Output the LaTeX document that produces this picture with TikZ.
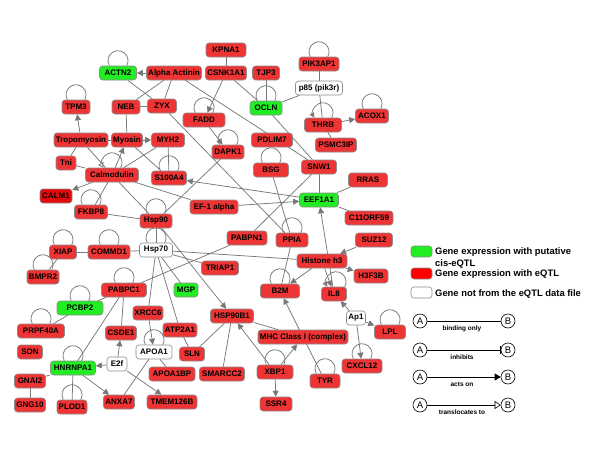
\documentclass[tikz,border=0pt]{standalone}
\usepackage{fontspec}
\setmainfont{Liberation Sans}
\usetikzlibrary{arrows.meta,backgrounds}
\definecolor{nred}{RGB}{238,52,52}
\definecolor{nredd}{RGB}{228,10,10}
\definecolor{ngreen}{RGB}{34,236,34}
\definecolor{nborder}{RGB}{140,140,140}
\definecolor{ecol}{RGB}{120,120,120}
\tikzset{
 gene/.style={draw=nborder, rounded corners=3pt, minimum height=14pt, inner xsep=1pt, inner ysep=0pt, font=\fontsize{8}{9}\selectfont\bfseries, line width=0.6pt},
 rn/.style={gene, fill=nred},
 rd/.style={gene, fill=nredd},
 gn/.style={gene, fill=ngreen},
 wn/.style={gene, fill=white},
 edge/.style={draw=ecol, line width=0.75pt},
 act/.style={edge, -{Triangle[length=6pt,width=6pt]}},
 lgd/.style={draw=black, line width=0.6pt},
 abc/.style={circle, draw=black, line width=0.6pt, minimum size=14pt, inner sep=0pt, font=\fontsize{9.5}{10}\selectfont},
 lgtxt/.style={font=\fontsize{9.4}{10}\selectfont\bfseries, anchor=base west, inner sep=0pt},
 lgsm/.style={font=\fontsize{6.5}{7}\selectfont\bfseries, inner sep=0pt}
}
\newcommand\sloop[2][0]{\draw[edge] ([xshift=#1pt-8.66pt]#2.north) arc[start angle=210,end angle=-30,radius=10pt];}
\newcommand\aloop[2][0]{\draw[edge,{Triangle[length=5pt,width=5pt]}-] ([xshift=#1pt-8.66pt]#2.north) arc[start angle=210,end angle=-30,radius=10pt];}
\newcommand\tloop[2][0]{\draw[edge,{Triangle[open,length=5pt,width=6pt]}-] ([xshift=#1pt-8.66pt]#2.north) arc[start angle=210,end angle=-30,radius=10pt];}
\begin{document}
\begin{tikzpicture}[x=1pt,y=1pt]
\useasboundingbox (0,0) rectangle (600,-455);
% ---- nodes ----
\node[rn,minimum width=40pt] (KPNA1) at (226,-50) {KPNA1};
\node[rn,minimum width=55pt] (AlphaA) at (174,-73) {Alpha Actinin};
\node[rn,minimum width=41pt] (CSNK1A1) at (226,-73) {CSNK1A1};
\node[rn,minimum width=27pt] (TJP3) at (266,-73) {TJP3};
\node[rn,minimum width=40pt] (PIK3AP1) at (319,-64) {PIK3AP1};
\node[wn,minimum width=47pt] (p85) at (319,-88) {p85 (pik3r)};
\node[gn,minimum width=37pt] (ACTN2) at (118,-73) {ACTN2};
\node[rn,minimum width=28pt] (TPM3) at (76,-107) {TPM3};
\node[rn,minimum width=28pt] (NEB) at (126,-107) {NEB};
\node[rn,minimum width=29pt] (ZYX) at (162,-106) {ZYX};
\node[rn,minimum width=42pt] (FADD) at (204,-120) {FADD};
\node[gn,minimum width=32pt] (OCLN) at (266,-108) {OCLN};
\node[rn,minimum width=33pt] (ACOX1) at (372,-116) {ACOX1};
\node[rn,minimum width=37pt] (THRB) at (323,-125) {THRB};
\node[rn,minimum width=41pt] (PSMC3IP) at (336,-145) {PSMC3IP};
\node[rn,minimum width=41pt] (PDLIM7) at (272,-140) {PDLIM7};
\node[rn,minimum width=32pt] (DAPK1) at (228,-152) {DAPK1};
\node[rn,minimum width=54pt] (Tropo) at (81,-140) {Tropomyosin};
\node[rn,minimum width=31pt] (Myosin) at (127,-140) {Myosin};
\node[rn,minimum width=33pt] (MYH2) at (168,-140) {MYH2};
\node[rn,minimum width=20pt] (Tni) at (66,-163) {Tni};
\node[rn,minimum width=53pt] (Calm) at (112,-175) {Calmodulin};
\node[rn,minimum width=35pt] (S100A4) at (169,-178) {S100A4};
\node[rd,minimum width=32pt] (CALM1) at (56,-196) {CALM1};
\node[rn,minimum width=35pt] (BSG) at (271,-170) {BSG};
\node[rn,minimum width=35pt] (SNW1) at (319,-167) {SNW1};
\node[gn,minimum width=39pt] (EEF1A1) at (319,-200) {EEF1A1};
\node[rn,minimum width=39pt] (RRAS) at (368,-180) {RRAS};
\node[rn,minimum width=33pt] (FKBP8) at (91,-212) {FKBP8};
\node[rn,minimum width=48pt] (EF1a) at (214,-207) {EF-1 alpha};
\node[rn,minimum width=48pt] (C11) at (369,-218) {C11ORF59};
\node[rn,minimum width=32pt] (Hsp90) at (156,-221) {Hsp90};
\node[rn,minimum width=27pt] (XIAP) at (63,-252) {XIAP};
\node[rn,minimum width=42pt] (COMMD1) at (109,-252) {COMMD1};
\node[wn,minimum width=33pt] (Hsp70) at (156,-250) {Hsp70};
\node[rn,minimum width=40pt] (PABPN1) at (247,-238) {PABPN1};
\node[rn,minimum width=32pt] (PPIA) at (292,-240) {PPIA};
\node[rn,minimum width=37pt] (SUZ12) at (374,-240) {SUZ12};
\node[rn,minimum width=50pt] (Histone) at (322,-261) {Histone h3};
\node[rn,minimum width=37pt] (TRIAP1) at (220,-268) {TRIAP1};
\node[rn,minimum width=34pt] (H3F3B) at (371,-276) {H3F3B};
\node[rn,minimum width=32pt] (BMPR2) at (43,-277) {BMPR2};
\node[rn,minimum width=45pt] (PABPC1) at (124,-290) {PABPC1};
\node[gn,minimum width=24pt] (MGP) at (186,-290) {MGP};
\node[rn,minimum width=39pt] (B2M) at (280,-291) {B2M};
\node[rn,minimum width=25pt] (IL8) at (334,-294) {IL8};
\node[gn,minimum width=46pt] (PCBP2) at (80,-308) {PCBP2};
\node[rn,minimum width=30pt] (XRCC6) at (148,-313) {XRCC6};
\node[rn,minimum width=43pt] (HSP90B1) at (232,-316) {HSP90B1};
\node[wn,minimum width=19pt] (Ap1) at (356,-318) {Ap1};
\node[rn,minimum width=47pt] (PRPF40A) at (41,-331) {PRPF40A};
\node[rn,minimum width=34pt] (ATP2A1) at (180,-330) {ATP2A1};
\node[rn,minimum width=31pt] (CSDE1) at (121,-333) {CSDE1};
\node[rn,minimum width=31pt] (LPL) at (390,-332) {LPL};
\node[rn,minimum width=90pt] (MHC) at (303,-337) {MHC Class I (complex)};
\node[rn,minimum width=25pt] (SON) at (30,-352) {SON};
\node[wn,minimum width=36pt] (APOA1) at (154,-352) {APOA1};
\node[rn,minimum width=25pt] (SLN) at (192,-354) {SLN};
\node[rn,minimum width=40pt] (CXCL12) at (362,-366) {CXCL12};
\node[gn,minimum width=45pt] (HNRNPA1) at (73,-368) {HNRNPA1};
\node[wn,minimum width=20pt] (E2f) at (117,-364) {E2f};
\node[rn,minimum width=46pt] (APOA1BP) at (172,-374) {APOA1BP};
\node[rn,minimum width=45pt] (SMARCC2) at (222,-374) {SMARCC2};
\node[rn,minimum width=36pt] (XBP1) at (275,-372) {XBP1};
\node[rn,minimum width=30pt] (TYR) at (325,-381) {TYR};
\node[rn,minimum width=31pt] (GNAI2) at (30,-381) {GNAI2};
\node[rn,minimum width=31pt] (ANXA7) at (119,-402) {ANXA7};
\node[rn,minimum width=50pt] (TMEM) at (172,-402) {TMEM126B};
\node[rn,minimum width=32pt] (SSR4) at (276,-404) {SSR4};
\node[rn,minimum width=31pt] (GNG10) at (30,-405) {GNG10};
\node[rn,minimum width=30pt] (PLOD1) at (72,-407) {PLOD1};
% ---- edges ----
\begin{scope}[on background layer]
\foreach \a/\b in {AlphaA/NEB, AlphaA/ZYX, ACTN2/ZYX, AlphaA/SNW1, KPNA1/CSNK1A1, CSNK1A1/OCLN,
  TJP3/OCLN, OCLN/p85, PIK3AP1/p85, p85/THRB, THRB/PSMC3IP, OCLN/SNW1, NEB/ZYX, NEB/Myosin,
  Tropo/Myosin, Tropo/Tni, Tni/Calm, Tropo/Calm, Calm/MYH2, Myosin/S100A4, MYH2/S100A4,
  Calm/FKBP8, Calm/Hsp90, Calm/EF1a, FKBP8/Hsp90, DAPK1/Hsp90, Hsp90/Hsp70, ZYX/PPIA, BSG/PPIA,
  PPIA/B2M, SNW1/EEF1A1, SNW1/PABPN1, EEF1A1/RRAS, EEF1A1/C11, XIAP/COMMD1, XIAP/BMPR2,
  COMMD1/Hsp70, Hsp70/Histone, Hsp70/TRIAP1, Hsp70/MGP, Hsp70/XRCC6, Hsp70/ATP2A1,
  PABPN1/PABPC1, PABPC1/PCBP2, PABPC1/HNRNPA1, PABPC1/CSDE1, PCBP2/PRPF40A, HNRNPA1/GNAI2,
  HNRNPA1/PLOD1, GNAI2/GNG10, APOA1/ANXA7, APOA1/APOA1BP, ATP2A1/SLN, HSP90B1/SLN,
  HSP90B1/SMARCC2, HSP90B1/MHC}
  {\draw[edge] (\a) -- (\b);}
\foreach \a/\b in {AlphaA/ACTN2, CSNK1A1/FADD, FADD/DAPK1, THRB/ACOX1, Tropo/TPM3, Myosin/MYH2,
  Calm/Myosin, Calm/CALM1, EEF1A1/S100A4, EF1a/EEF1A1, Hsp90/HSP90B1, IL8/EEF1A1, SUZ12/Histone,
  Histone/H3F3B, Histone/B2M, Histone/IL8, Ap1/IL8, Ap1/LPL, Ap1/CXCL12, TYR/B2M, XBP1/HSP90B1,
  XBP1/MHC, XBP1/SSR4, XRCC6/APOA1, E2f/HNRNPA1, E2f/CSDE1, E2f/TMEM, HNRNPA1/ANXA7}
  {\draw[act] (\a) -- (\b);}
\foreach \n in {ACTN2, PIK3AP1, TPM3, FADD, OCLN, ACOX1, DAPK1, BSG, S100A4, FKBP8, Hsp90, Hsp70,
  XIAP, COMMD1, BMPR2, PABPC1, PCBP2, PRPF40A, HNRNPA1, PLOD1, PPIA, B2M, APOA1, LPL, CXCL12, TYR, XBP1}
  {\sloop{\n}}
\aloop{THRB}
\aloop[2]{IL8}
\tloop{Calm}
\end{scope}
% ---- legend ----
\node[gene, fill=ngreen, minimum width=21pt, minimum height=11pt] (lg1) at (421.5,-251.5) {};
\node[gene, fill=red, minimum width=21pt, minimum height=11pt] (lg2) at (421.5,-273.5) {};
\node[gene, fill=white, minimum width=21pt, minimum height=11pt] (lg3) at (421.5,-292.5) {};
\node[lgtxt] (t1) at (435,-254.5) {Gene expression with putative};
\node[lgtxt] (t1b) at (435,-266) {cis-eQTL};
\node[lgtxt] (t2) at (435,-276.5) {Gene expression with eQTL};
\node[lgtxt] (t3) at (435,-296) {Gene not from the eQTL data file};
\node[abc] (A1) at (420,-321) {A}; \node[abc] (B1) at (508,-321) {B};
\node[abc] (A2) at (420,-350) {A}; \node[abc] (B2) at (508,-350) {B};
\node[abc] (A3) at (420,-377) {A}; \node[abc] (B3) at (508,-377) {B};
\node[abc] (A4) at (420,-405) {A}; \node[abc] (B4) at (508,-405) {B};
\draw[lgd] (A1) -- (B1);
\draw[lgd, -{Bar[width=8pt]}] (A2) -- (B2);
\draw[lgd, -{Triangle[length=6pt,width=7pt]}] (A3) -- (B3);
\draw[lgd, -{Triangle[open,length=6pt,width=8pt]}] (A4) -- (B4);
\node[lgsm] (l1) at (462,-328.5) {binding only};
\node[lgsm] (l2) at (462,-357.5) {inhibits};
\node[lgsm] (l3) at (462,-384.5) {acts on};
\node[lgsm] (l4) at (462,-412.5) {translocates to};
\end{tikzpicture}
\end{document}
